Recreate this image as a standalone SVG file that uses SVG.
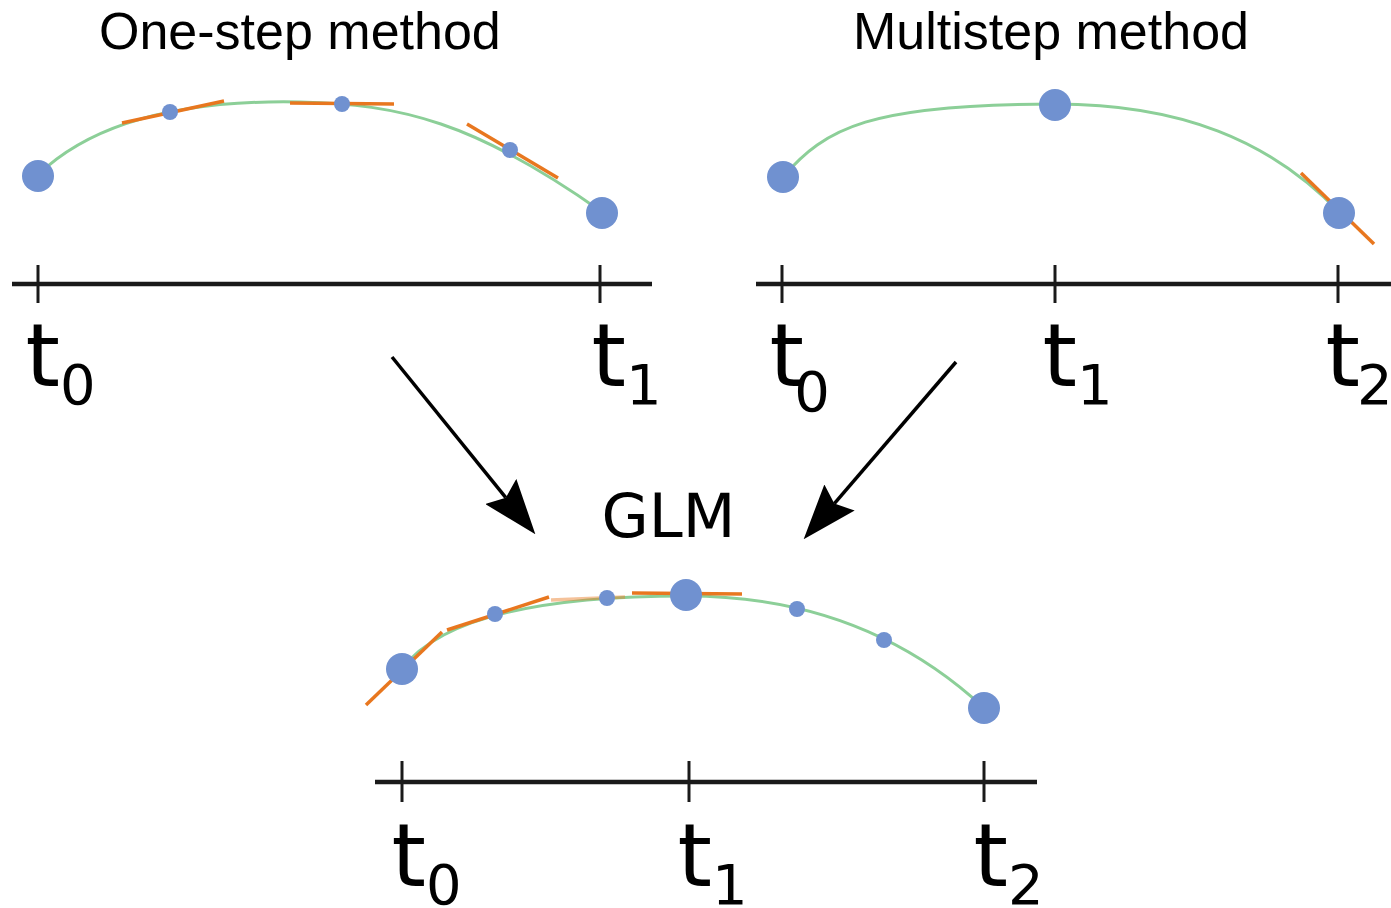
<svg xmlns="http://www.w3.org/2000/svg" width="1391" height="908" viewBox="0 0 1391 908">
  <style>
    .title { font-family: "Liberation Sans", Arial, sans-serif; font-size: 52px; fill: #000; }
    .glm { font-family: "DejaVu Sans", sans-serif; font-size: 61px; fill: #000; }
    .tick-label { font-family: "DejaVu Sans", sans-serif; font-size: 88px; fill: #000; }
    .sub { font-size: 56px; }
    .axis { stroke: #1a1a1a; stroke-width: 4.5; fill: none; }
    .tick { stroke: #1a1a1a; stroke-width: 3; fill: none; }
    .curve { stroke: #8ccf98; stroke-width: 3; fill: none; }
    .slope { stroke: #e8771f; stroke-width: 3.5; fill: none; }
    .pt { fill: #7091d0; }
    .flow { stroke: #000; stroke-width: 3.5; fill: none; }
  </style>
  <defs>
    <marker id="head" viewBox="0 0 55 40" refX="8" refY="20" markerWidth="55" markerHeight="40" markerUnits="userSpaceOnUse" orient="auto">
      <path d="M0,0 L55,20 L0,40 L8,20 Z" fill="#000"/>
    </marker>
  </defs>
  <rect width="1391" height="908" fill="#fff"/>

  <!-- One-step method panel -->
  <g id="onestep">
    <text class="title" x="99" y="49">One-step method</text>
    <path class="curve" d="M38,175 C100,115 200,100 300,102 C400,104 475,122 602,212"/>
    <line class="slope" x1="122" y1="123" x2="224" y2="101"/>
    <line class="slope" x1="290" y1="103" x2="394" y2="104"/>
    <line class="slope" x1="467" y1="124" x2="558" y2="178"/>
    <circle class="pt" cx="38" cy="176" r="16"/>
    <circle class="pt" cx="602" cy="213" r="16"/>
    <circle class="pt" cx="170" cy="112" r="8"/>
    <circle class="pt" cx="342" cy="104" r="8"/>
    <circle class="pt" cx="510" cy="150" r="8"/>
    <line class="axis" x1="12" y1="284" x2="652" y2="284"/>
    <line class="tick" x1="38" y1="265" x2="38" y2="303"/>
    <line class="tick" x1="600" y1="265" x2="600" y2="303"/>
    <text class="tick-label" x="25.6" y="386">t<tspan class="sub" dy="18">0</tspan></text>
    <text class="tick-label" x="591.6" y="386">t<tspan class="sub" dy="18">1</tspan></text>
  </g>

  <!-- Multistep method panel -->
  <g id="multistep">
    <text class="title" x="853" y="49">Multistep method</text>
    <path class="curve" d="M783,177 C825,128 870,104 1055,104 C1180,104 1270,140 1340,213"/>
    <line class="slope" x1="1301" y1="173" x2="1374" y2="244"/>
    <circle class="pt" cx="783" cy="177" r="16"/>
    <circle class="pt" cx="1055" cy="105" r="16"/>
    <circle class="pt" cx="1339" cy="213" r="16"/>
    <line class="axis" x1="756" y1="284" x2="1391" y2="284"/>
    <line class="tick" x1="782" y1="265" x2="782" y2="303"/>
    <line class="tick" x1="1055" y1="265" x2="1055" y2="303"/>
    <line class="tick" x1="1338" y1="265" x2="1338" y2="303"/>
    <text class="tick-label" x="769.6" y="386">t</text>
    <text class="tick-label sub" x="794.3" y="411">0</text>
    <text class="tick-label" x="1042.6" y="386">t<tspan class="sub" dy="18">1</tspan></text>
    <text class="tick-label" x="1325.6" y="386">t<tspan class="sub" dx="-3" dy="18">2</tspan></text>
  </g>

  <!-- General linear method panel -->
  <g id="glm">
    <text class="glm" x="601.6" y="537">GLM</text>
    <path class="curve" d="M402,669 C442,615 550,596 686,596 C800,596 900,630 984,708"/>
    <line class="slope" x1="366" y1="705" x2="442" y2="632"/>
    <line class="slope" x1="447" y1="630" x2="549" y2="597"/>
    <line class="slope" x1="551" y1="600" x2="625" y2="597" stroke-opacity="0.45"/>
    <line class="slope" x1="632" y1="593" x2="742" y2="594"/>
    <circle class="pt" cx="402" cy="669" r="16"/>
    <circle class="pt" cx="495" cy="614" r="8"/>
    <circle class="pt" cx="607" cy="598" r="8"/>
    <circle class="pt" cx="686" cy="595" r="16"/>
    <circle class="pt" cx="797" cy="609" r="8"/>
    <circle class="pt" cx="884" cy="640" r="8"/>
    <circle class="pt" cx="984" cy="708" r="16"/>
    <line class="axis" x1="375" y1="782" x2="1037" y2="782"/>
    <line class="tick" x1="402" y1="761" x2="402" y2="802"/>
    <line class="tick" x1="689" y1="761" x2="689" y2="802"/>
    <line class="tick" x1="984" y1="761" x2="984" y2="802"/>
    <text class="tick-label" x="391.6" y="886">t<tspan class="sub" dy="18">0</tspan></text>
    <text class="tick-label" x="677.6" y="886">t<tspan class="sub" dy="18">1</tspan></text>
    <text class="tick-label" x="973.6" y="886">t<tspan class="sub" dy="18">2</tspan></text>
  </g>

  <!-- Connectors -->
  <g id="connectors">
    <line class="flow" x1="392" y1="357" x2="505.8" y2="497.7" marker-end="url(#head)"/>
    <line class="flow" x1="956" y1="362" x2="834.3" y2="503.6" marker-end="url(#head)"/>
  </g>
</svg>
